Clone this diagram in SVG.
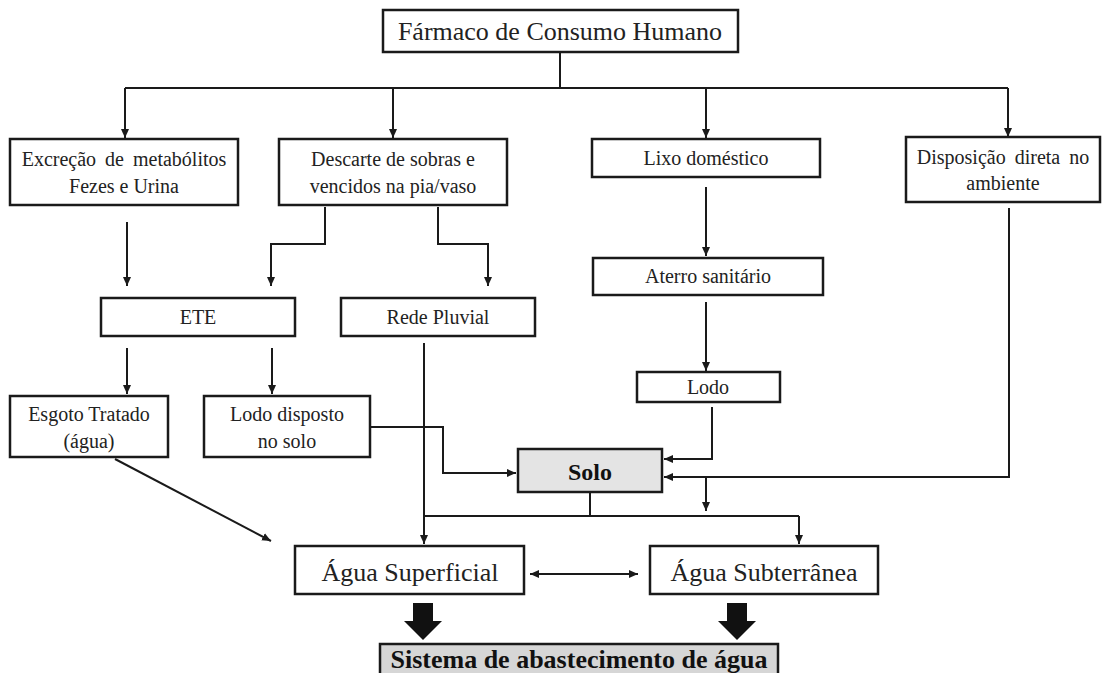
<svg xmlns="http://www.w3.org/2000/svg" width="1102" height="673" viewBox="0 0 1102 673">
<defs>
<marker id="ah" markerUnits="userSpaceOnUse" markerWidth="10" markerHeight="10" viewBox="0 0 10 10" refX="9" refY="5" orient="auto-start-reverse">
<path d="M0,1 L9,5 L0,9 Z" fill="#1a1a1a"/>
</marker>
<style>
.box{fill:#fff;stroke:#1a1a1a;stroke-width:2.5}
.gray{fill:#e4e4e4;stroke:#1a1a1a;stroke-width:2.5}
.gray2{fill:#d6d6d6;stroke:#1a1a1a;stroke-width:2.5}
text{font-family:'Liberation Serif','DejaVu Serif',serif;fill:#222;text-anchor:middle}
.t{font-size:20px}
.tl{font-size:26px}
.tb{font-size:26px;font-weight:bold;fill:#111}
.ln{fill:none;stroke:#1a1a1a;stroke-width:2}
.ar{fill:none;stroke:#1a1a1a;stroke-width:2;marker-end:url(#ah)}
.blk{fill:#111}
</style>
</defs>
<g id="connectors">
<path class="ln" d="M560,52 V88 M125,88 H1008"/>
<path class="ar" d="M125,88 V138"/>
<path class="ar" d="M393,88 V138"/>
<path class="ar" d="M706,88 V138"/>
<path class="ar" d="M1008,88 V137"/>
<path class="ar" d="M127,222 V286"/>
<path class="ar" d="M325,207 V244 H271 V286"/>
<path class="ar" d="M438,207 V244 H488 V286"/>
<path class="ar" d="M706,187 V256"/>
<path class="ar" d="M706,302 V371"/>
<path class="ar" d="M127,348 V394"/>
<path class="ar" d="M272,348 V394"/>
<path class="ar" d="M712,407 V459 H664"/>
<path class="ar" d="M1009,208 V477 H664"/>
<path class="ar" d="M706,477 V511"/>
<path class="ar" d="M370,427 H443 V473 H516"/>
<path class="ln" d="M590,492 V516 M424,516 H799"/>
<path class="ar" d="M424,343 V544"/>
<path class="ar" d="M799,516 V544"/>
<path class="ar" d="M115,459 L271,541"/>
<path class="ar" d="M530,574 H638" style="marker-start:url(#ah)"/>
<polygon class="blk" points="413,603 433,603 433,621 442,621 423,640 404,621 413,621"/>
<polygon class="blk" points="727,603 747,603 747,621 756,621 737,640 718,621 727,621"/>
</g>
<g id="n-farmaco"><rect class="box" x="383" y="10" width="355" height="42"/><text class="tl" x="560" y="40">Fármaco de Consumo Humano</text></g>
<g id="n-excrecao"><rect class="box" x="10" y="139" width="228" height="66"/><text class="t" x="124" y="166" style="word-spacing:4px">Excreção de metabólitos</text><text class="t" x="124" y="193">Fezes e Urina</text></g>
<g id="n-descarte"><rect class="box" x="279" y="139" width="228" height="66"/><text class="t" x="393" y="166">Descarte de sobras e</text><text class="t" x="393" y="193">vencidos na pia/vaso</text></g>
<g id="n-lixo"><rect class="box" x="592" y="139" width="228" height="38"/><text class="t" x="706" y="165">Lixo doméstico</text></g>
<g id="n-disposicao"><rect class="box" x="906" y="137" width="194" height="65"/><text class="t" x="1003" y="164" style="word-spacing:4px">Disposição direta no</text><text class="t" x="1003" y="190">ambiente</text></g>
<g id="n-ete"><rect class="box" x="101" y="298" width="194" height="38"/><text class="t" x="198" y="324">ETE</text></g>
<g id="n-rede"><rect class="box" x="341" y="298" width="194" height="38"/><text class="t" x="438" y="324">Rede Pluvial</text></g>
<g id="n-aterro"><rect class="box" x="593" y="258" width="230" height="37"/><text class="t" x="708" y="283">Aterro sanitário</text></g>
<g id="n-lodo"><rect class="box" x="637" y="372" width="143" height="30"/><text class="t" x="708" y="394">Lodo</text></g>
<g id="n-esgoto"><rect class="box" x="10" y="396" width="158" height="61"/><text class="t" x="89" y="421">Esgoto Tratado</text><text class="t" x="89" y="448">(água)</text></g>
<g id="n-lododisp"><rect class="box" x="204" y="396" width="166" height="61"/><text class="t" x="287" y="421">Lodo disposto</text><text class="t" x="287" y="448">no solo</text></g>
<g id="n-solo"><rect class="gray" x="518" y="449" width="144" height="43"/><text class="tb" x="590" y="480" style="font-size:24px">Solo</text></g>
<g id="n-superficial"><rect class="box" x="295" y="546" width="229" height="48"/><text class="tl" x="410" y="581">Água Superficial</text></g>
<g id="n-subterranea"><rect class="box" x="650" y="546" width="228" height="48"/><text class="tl" x="764" y="581">Água Subterrânea</text></g>
<g id="n-sistema"><rect class="gray2" x="380" y="644" width="398" height="34"/><text class="tb" x="579" y="668">Sistema de abastecimento de água</text></g>
</svg>
